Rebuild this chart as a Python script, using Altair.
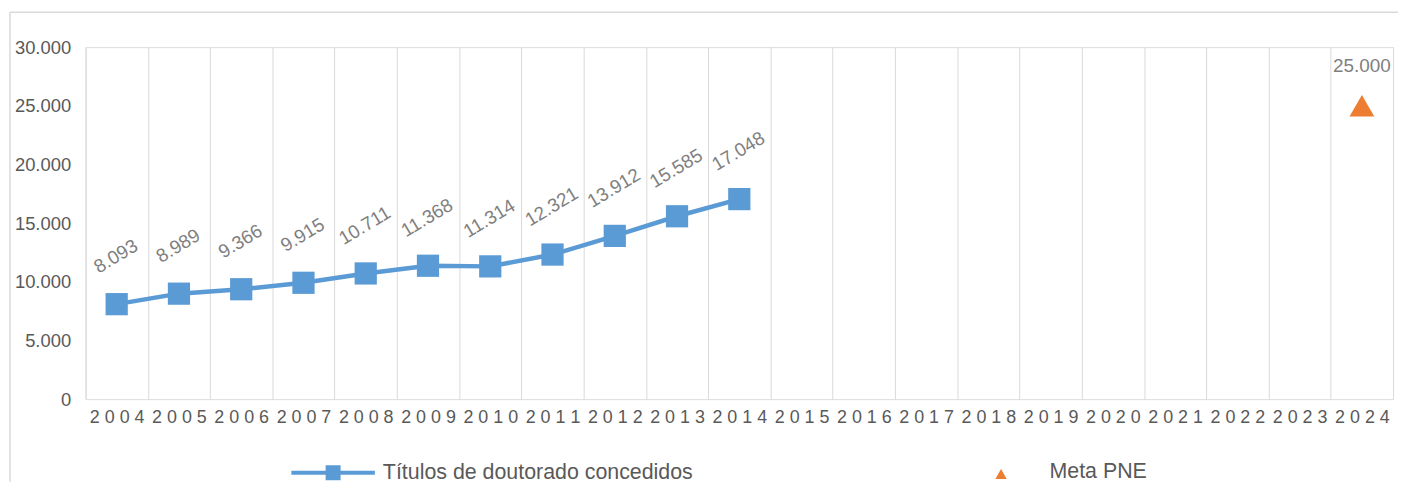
import altair as alt
import pandas as pd

# ---- data ----
anos = ["2004", "2005", "2006", "2007", "2008", "2009", "2010", "2011", "2012",
        "2013", "2014", "2015", "2016", "2017", "2018", "2019", "2020", "2021",
        "2022", "2023", "2024"]
anos_hist = ["2004", "2005", "2006", "2007", "2008", "2009", "2010", "2011",
             "2012", "2013", "2014"]
titulos = [8093, 8989, 9366, 9915, 10711, 11368, 11314, 12321, 13912, 15585, 17048]
meta_ano = ["2024"]
meta_valor = [25000]
serie_hist = "Títulos de doutorado concedidos"
serie_meta = "Meta PNE"
y_ticks = [0, 5000, 10000, 15000, 20000, 25000, 30000]

df_hist = pd.DataFrame({"ano": anos_hist, "valor": titulos, "serie": serie_hist})
df_meta = pd.DataFrame({"ano": meta_ano, "valor": meta_valor, "serie": serie_meta})

FONT = "Liberation Sans"
BLUE = "#5b9bd5"
ORANGE = "#ed7d31"
GRID = "#d9d9d9"
num_fmt = "replace(format(datum.valor, ','), ',', '.')"

x_enc = alt.X(
    "ano:N",
    scale=alt.Scale(type="band", domain=anos, paddingInner=0, paddingOuter=0,
                    round=False),
    axis=alt.Axis(
        title=None, domain=False, ticks=False, tickSize=0, grid=True,
        gridColor=GRID, gridWidth=1, tickBand="extent", labelAngle=0,
        labelFont=FONT, labelFontSize=18, labelColor="#595959",
        labelPadding=10, labelExpr="join(split(datum.label, ''), ' ')",
    ),
)
y_enc = alt.Y(
    "valor:Q",
    scale=alt.Scale(domain=[0, 30000]),
    axis=alt.Axis(
        title=None, values=y_ticks, domain=False, ticks=False, tickSize=0,
        grid=False, labelFont=FONT, labelFontSize=18.5, labelColor="#595959",
        labelPadding=15,
        labelExpr="replace(format(datum.value, ','), ',', '.')",
    ),
)

legend_path = ("M-1,-0.048L-0.179,-0.048L-0.179,-0.179L0.179,-0.179L0.179,-0.048"
               "L1,-0.048L1,0.048L0.179,0.048L0.179,0.179L-0.179,0.179"
               "L-0.179,0.048L-1,0.048Z")
tri_path = "M0,-0.5L1,1.232L-1,1.232Z"

base_hist = alt.Chart(df_hist)
linha = base_hist.mark_line(color=BLUE, strokeWidth=4.5).encode(x=x_enc, y=y_enc)
pontos = base_hist.mark_point(shape="square", filled=True, size=500, opacity=1).encode(
    x=x_enc, y=y_enc,
    color=alt.Color(
        "serie:N",
        scale=alt.Scale(domain=[serie_hist], range=[BLUE]),
        legend=alt.Legend(
            title=None, orient="none", legendX=207, legendY=386, padding=0,
            symbolType=legend_path, symbolSize=7056, symbolStrokeWidth=0,
            labelOffset=8, labelFont=FONT, labelFontSize=21.5, labelLimit=0,
            labelColor="#595959",
        ),
    ),
)
rotulos = base_hist.transform_calculate(rot=num_fmt).mark_text(
    angle=329, dx=24, dy=-41.6, font=FONT, fontSize=19, color="#7f7f7f",
    align="center", baseline="middle",
).encode(x=x_enc, y=y_enc, text="rot:N")

base_meta = alt.Chart(df_meta)
meta = base_meta.mark_point(shape="triangle-up", filled=True, size=620, opacity=1).encode(
    x=x_enc, y=y_enc,
    fill=alt.Fill(
        "serie:N",
        scale=alt.Scale(domain=[serie_meta], range=[ORANGE]),
        legend=alt.Legend(
            title=None, orient="none", legendX=910, legendY=416.5, padding=0,
            symbolType=tri_path, symbolSize=130, symbolStrokeWidth=0,
            labelOffset=38, labelFont=FONT, labelFontSize=21.5, labelLimit=0,
            labelColor="#595959",
        ),
    ),
)
meta_rot = base_meta.transform_calculate(rot=num_fmt).mark_text(
    dy=-40, font=FONT, fontSize=19, color="#7f7f7f", align="center",
    baseline="middle",
).encode(x=x_enc, y=y_enc, text="rot:N")

frame_df = pd.DataFrame({"k": [0]})
borda_topo = alt.Chart(frame_df).mark_rule(color=GRID, strokeWidth=1.5).encode(
    x=alt.value(-76), x2=alt.value(1320), y=alt.value(-35))
borda_esq = alt.Chart(frame_df).mark_rule(color=GRID, strokeWidth=1.5).encode(
    x=alt.value(-76), y=alt.value(-35), y2=alt.value(437))

chart = alt.layer(
    borda_topo, borda_esq, linha, pontos, rotulos, meta, meta_rot
).resolve_scale(color="independent", fill="independent").properties(
    width=1315, height=354,
    padding={"left": 78, "top": 38, "right": 5, "bottom": 83},
    autosize=alt.AutoSizeParams(type="none"),
).configure_view(stroke=GRID, strokeWidth=1).configure(background="white")

chart.save("out.html", embed_options={"renderer": "svg", "actions": False})
